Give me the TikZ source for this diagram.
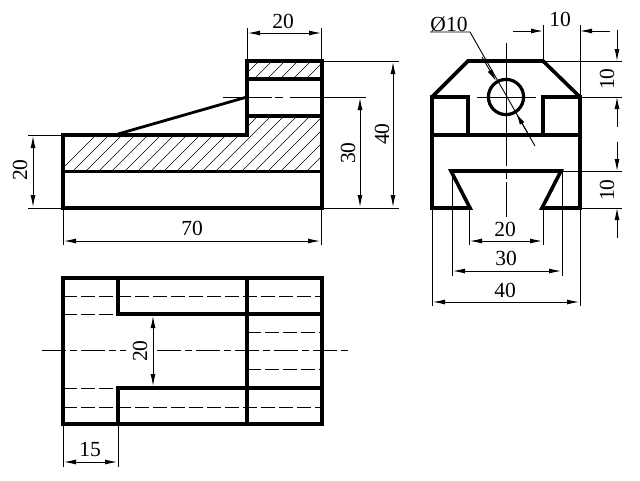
\documentclass[tikz,border=0pt]{standalone}
\usepackage{fontspec}
\setmainfont{Liberation Serif}
\usetikzlibrary{arrows.meta}

\begin{document}
\begin{tikzpicture}[x=1pt,y=-1pt,
  outline/.style={line width=3.6pt,line join=miter,line cap=rect},
  thinline/.style={line width=0.9pt},
  hatchline/.style={line width=0.6pt},
  hiddenline/.style={line width=0.9pt,dash pattern=on 14pt off 4pt},
  axisline/.style={line width=0.9pt,dash pattern=on 24pt off 4pt on 7pt off 4pt},
  dimline/.style={line width=0.9pt,-{Latex[length=12pt,width=5pt]}},
  dimboth/.style={line width=0.9pt,{Latex[length=12pt,width=5pt]}-{Latex[length=12pt,width=5pt]}},
  dimtext/.style={inner sep=0pt,font=\fontsize{21.5}{24}\selectfont}]
\useasboundingbox (0,0) rectangle (640,480);

\begin{scope}
\clip (63,135) -- (247,135) -- (247,116) -- (322,116) -- (322,171) -- (63,171) -- cycle;
\foreach \i in {0,...,28}
  \draw[hatchline] ({56+13*\i},175) -- ({56+13*\i+70},105);
\end{scope}
\begin{scope}
\clip (247,61) rectangle (322,79);
\foreach \i in {0,...,8}
  \draw[hatchline] ({238+13*\i},82) -- ({238+13*\i+30},52);
\end{scope}

\draw[thinline] (223,97) -- (272,97);
\draw[thinline] (275,97) -- (283,97);
\draw[thinline] (290,97) -- (366,97);
\draw[outline] (63,135) -- (247,135) -- (247,61) -- (322,61) -- (322,208) -- (63,208) -- cycle;
\draw[outline] (247,79) -- (322,79);
\draw[outline] (247,116) -- (322,116);
\draw[outline] (63,171.5) -- (322,171.5);
\draw[line width=2.8pt] (118,134) -- (247,97);

\draw[thinline] (247,28) -- (247,61);
\draw[thinline] (321,28) -- (321,61);
\draw[dimboth] (248,33) -- (321,33);
\node[dimtext] (frontwidth) at (283,21) {20};
\draw[thinline] (322,61) -- (399,61);
\draw[thinline] (322,208) -- (399,208);
\draw[dimboth] (393,62) -- (393,207);
\node[dimtext,rotate=90] (frontheight) at (382,134) {40};
\draw[dimboth] (360,98) -- (360,207);
\node[dimtext,rotate=90] (holeheight) at (348,153) {30};
\draw[thinline] (28,135) -- (63,135);
\draw[thinline] (28,208) -- (63,208);
\draw[dimboth] (33,136) -- (33,207);
\node[dimtext,rotate=90] (baseheight) at (20,170) {20};
\draw[thinline] (63,208) -- (63,245);
\draw[thinline] (321,208) -- (321,245);
\draw[dimboth] (64,241) -- (320,241);
\node[dimtext] (totalwidth) at (192,228) {70};

\draw[thinline] (506,43) -- (506,166);
\draw[thinline] (506,172) -- (506,179);
\draw[thinline] (506,182) -- (506,217);
\draw[thinline] (477,97) -- (536,97);
\draw[outline] (432,97) -- (468,61) -- (543,61) -- (580,97) -- (580,208) -- (542,208) -- (561,171) -- (451,171) -- (470,208) -- (432,208) -- cycle;
\draw[outline] (432,97) -- (468,97) -- (468,135);
\draw[outline] (580,97) -- (543,97) -- (543,135);
\draw[outline] (432,135) -- (580,135);
\draw[line width=3.2pt] (506,97) circle (17.6);

\node[dimtext] (holedia) at (449,24) {Ø10};
\draw[thinline] (430,32) -- (470,32) -- (535,146);
\draw[dimline] (482,57) -- (496,81);
\draw[dimline] (530,137) -- (516,113);

\draw[thinline] (543,25) -- (543,61);
\draw[thinline] (580,25) -- (580,97);
\draw[dimline] (513,31) -- (543,31);
\draw[dimline] (610,31) -- (580,31);
\node[dimtext] (chamferwidth) at (560,19) {10};
\draw[thinline] (543,61) -- (622,61);
\draw[thinline] (580,97) -- (622,97);
\draw[dimline] (617,30) -- (617,61);
\draw[dimline] (617,127) -- (617,97);
\node[dimtext,rotate=90] (chamferheight) at (607,79) {10};
\draw[thinline] (561,171) -- (622,171);
\draw[thinline] (580,208) -- (622,208);
\draw[dimline] (617,142) -- (617,171);
\draw[dimline] (617,238) -- (617,208);
\node[dimtext,rotate=90] (slotheight) at (607,190) {10};

\draw[thinline] (469,208) -- (469,245);
\draw[thinline] (543,208) -- (543,245);
\draw[dimboth] (470,241) -- (542,241);
\node[dimtext] (slotnarrow) at (505,229) {20};
\draw[thinline] (452,171) -- (452,276);
\draw[thinline] (562,171) -- (562,276);
\draw[dimboth] (453,271) -- (561,271);
\node[dimtext] (slotwide) at (506,258) {30};
\draw[thinline] (432,208) -- (432,306);
\draw[thinline] (580,208) -- (580,306);
\draw[dimboth] (433,302) -- (579,302);
\node[dimtext] (sidewidth) at (505,290) {40};

\draw[hiddenline] (63,296) -- (322,296);
\draw[hiddenline] (63,407) -- (322,407);
\draw[hiddenline] (63,314) -- (118,314);
\draw[hiddenline] (63,388) -- (118,388);
\draw[hiddenline] (247,332) -- (322,332);
\draw[hiddenline] (247,369) -- (322,369);
\draw[axisline] (42,350) -- (126,350);
\draw[axisline] (157,350) -- (348,350);
\draw[outline] (63,278) rectangle (322,424);
\draw[outline] (247,278) -- (247,424);
\draw[outline] (118,278) -- (118,314) -- (322,314);
\draw[outline] (118,424) -- (118,388) -- (322,388);

\draw[dimboth] (153,316) -- (153,386);
\node[dimtext,rotate=90] (slotplan) at (140,351) {20};
\draw[thinline] (63,424) -- (63,467);
\draw[thinline] (118,424) -- (118,467);
\draw[dimboth] (64,462) -- (117,462);
\node[dimtext] (stepwidth) at (90,450) {15};
\end{tikzpicture}
\end{document}
